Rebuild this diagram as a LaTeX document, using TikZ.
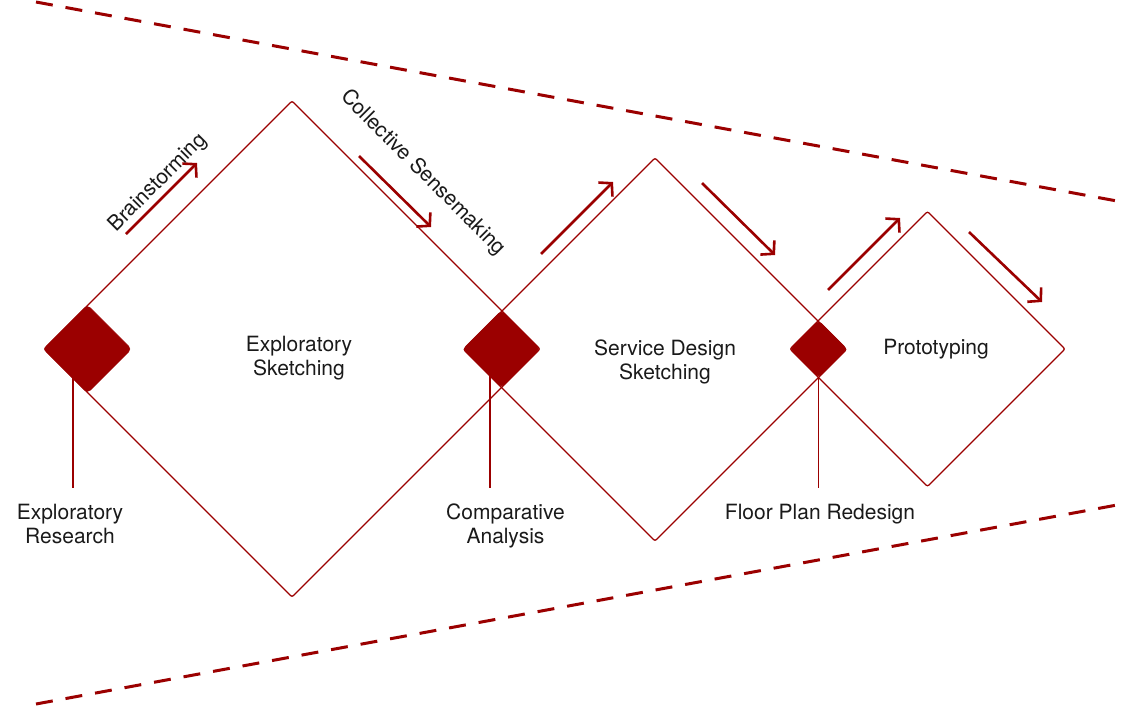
\documentclass[tikz,border=0pt]{standalone}
\usepackage{fontspec}
\setmainfont{TeX Gyre Heros}
\usetikzlibrary{shapes.geometric,arrows.meta}
\definecolor{dred}{HTML}{9B0000}
\definecolor{ink}{HTML}{1A1A1A}
\begin{document}
\begin{tikzpicture}[x=1pt,y=-1pt,
  bigd/.style={diamond,aspect=1,draw=dred,line width=1.3pt,inner sep=0pt,outer sep=0pt,rounded corners=2pt},
  smalld/.style={diamond,aspect=1,fill=dred,draw=dred,line width=0.5pt,inner sep=0pt,outer sep=0pt,rounded corners=4pt},
  lbl/.style={font=\fontsize{21}{24}\selectfont,text=ink,align=center,inner sep=0pt},
  stem/.style={draw=dred,line width=1.5pt},
  flow/.style={draw=dred,line width=2.6pt,-{Straight Barb[length=9pt,width=20pt]}},
  bound/.style={draw=dred,line width=3pt,dash pattern=on 17pt off 13pt}]
\useasboundingbox (0,0) rectangle (1134,715);
\fill[white] (0,0) rectangle (1134,715);

% boundary dashed lines
\coordinate (t1) at (36,2);
\coordinate (t2) at (1117,201);
\coordinate (b1) at (36,704);
\coordinate (b2) at (1117,505);
\draw[bound] (t1) -- (t2);
\draw[bound] (b1) -- (b2);

% big diamonds
\node[bigd,minimum width=496pt,minimum height=496pt] (d1) at (292,349) {};
\node[bigd,minimum width=383pt,minimum height=383pt] (d2) at (655,349.5) {};
\node[bigd,minimum width=275pt,minimum height=275pt] (d3) at (927.5,349) {};

% small filled diamonds
\node[smalld,minimum width=88pt,minimum height=88pt] (s1) at (87.5,349) {};
\node[smalld,minimum width=77pt,minimum height=77pt] (s2) at (501.5,349) {};
\node[smalld,minimum width=57pt,minimum height=57pt] (s3) at (818.5,349) {};

% stems
\coordinate (v1a) at (73,378);  \coordinate (v1b) at (73,488);
\coordinate (v2a) at (490,376); \coordinate (v2b) at (490,488);
\coordinate (v3a) at (818.5,377); \coordinate (v3b) at (818.5,488);
\draw[stem] (v1a) -- (v1b);
\draw[stem] (v2a) -- (v2b);
\draw[stem] (v3a) -- (v3b);

% flow arrows
\coordinate (a1s) at (126,234); \coordinate (a1e) at (197,163);
\coordinate (a2s) at (359,156); \coordinate (a2e) at (431,227);
\coordinate (a3s) at (541,254); \coordinate (a3e) at (613,182);
\coordinate (a4s) at (702,183); \coordinate (a4e) at (775,255);
\coordinate (a5s) at (828,290); \coordinate (a5e) at (900,218);
\coordinate (a6s) at (969,232); \coordinate (a6e) at (1042,302);
\draw[flow] (a1s) -- (a1e);
\draw[flow] (a2s) -- (a2e);
\draw[flow] (a3s) -- (a3e);
\draw[flow] (a4s) -- (a4e);
\draw[flow] (a5s) -- (a5e);
\draw[flow] (a6s) -- (a6e);

% labels
\node[lbl,rotate=45] (brain) at (158,183) {Brainstorming};
\node[lbl,rotate=-45] (coll) at (423,173) {Collective Sensemaking};
\node[lbl,anchor=base] (l1) at (299,375) {Exploratory\\Sketching};
\node[lbl,anchor=base] (l2) at (665,379) {Service Design\\Sketching};
\node[lbl,anchor=base] (l3) at (936,354) {Prototyping};
\node[lbl,anchor=base] (r1) at (70,543) {Exploratory\\Research};
\node[lbl,anchor=base] (r2) at (505.5,543) {Comparative\\Analysis};
\node[lbl,anchor=base] (r3) at (820,519) {Floor Plan Redesign};
\end{tikzpicture}
\end{document}
